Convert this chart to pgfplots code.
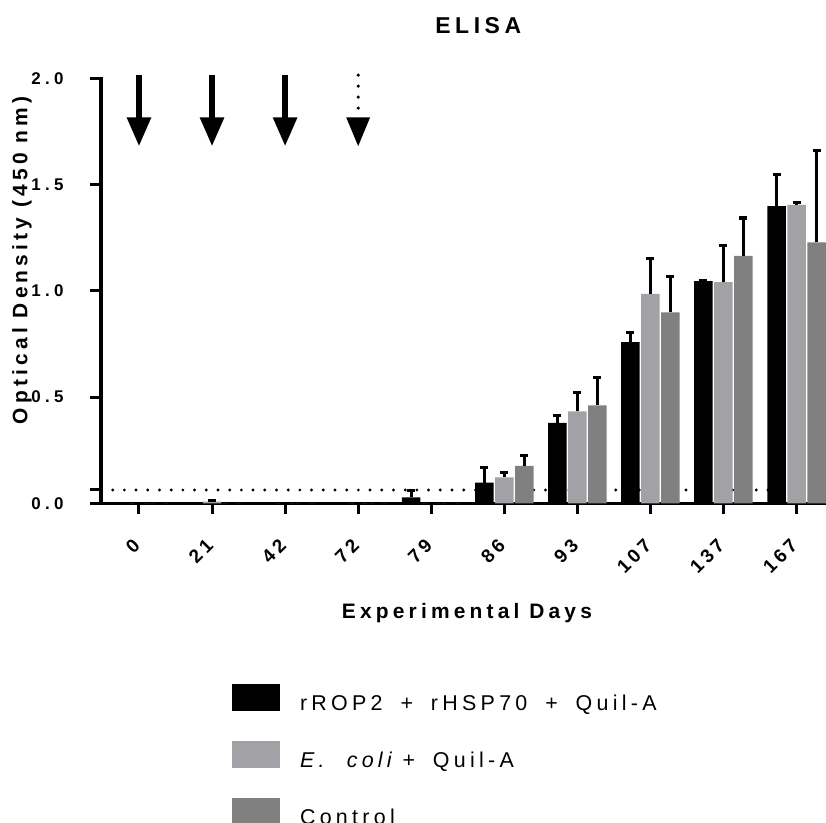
\documentclass[border=0pt]{standalone}
\usepackage{fontspec}
\setmainfont{Liberation Sans}[LetterSpace=20]
\newfontfamily\legfont{Liberation Sans}[LetterSpace=20, WordSpace=1.75]
\newfontfamily\yticfont{Liberation Sans}[LetterSpace=25]
\usepackage{pgfplots}
\pgfplotsset{compat=1.18}
\usepackage{pgfplotstable}
\usetikzlibrary{arrows.meta}

\definecolor{clight}{RGB}{162,162,166}
\definecolor{cdark}{RGB}{128,128,128}

\pgfplotstableread{
x b be l le d de
0 0 0 0 0 0 0
1 0 0 0.008 0.004 0 0
2 0 0 0 0 0 0
3 0 0 0 0 0 0
4 0.028 0.031 0 0 0 0
5 0.097 0.071 0.122 0.022 0.176 0.048
6 0.379 0.035 0.433 0.087 0.461 0.132
7 0.758 0.045 0.985 0.168 0.899 0.167
8 1.045 0.004 1.041 0.173 1.164 0.179
9 1.399 0.148 1.404 0.011 1.228 0.432
}\data

\newcommand{\xt}[1]{\mbox{\fontsize{19}{19}\selectfont\bfseries #1}}
\newcommand{\yt}[1]{\mbox{\yticfont\fontsize{17}{17}\selectfont\bfseries #1}}

\begin{document}
\begin{tikzpicture}
\begin{axis}[
  at={(101bp,319.7bp)}, anchor=south west,
  scale only axis, width=724bp, height=425bp,
  xmin=-0.52, xmax=9.39, ymin=0, ymax=2,
  clip=false,
  axis x line=bottom, axis y line=left,
  axis line style={-, line width=3bp, line cap=rect},
  tick align=outside, major tick length=11bp,
  every tick/.style={line width=3bp, black},
  xtick={0,1,2,3,4,5,6,7,8,9},
  xticklabels={\xt{0},\xt{21},\xt{42},\xt{72},\xt{79},\xt{86},\xt{93},\xt{107},\xt{137},\xt{167}},
  ytick={0,0.5,1,1.5,2},
  yticklabels={\yt{0.0},\yt{0.5},\yt{1.0},\yt{1.5},\yt{2.0}},
  extra y ticks={0.0626}, extra y tick labels={},
  xticklabel style={xshift=0bp, yshift=-25.5bp, rotate=45, anchor=east},
  yticklabel style={xshift=-23bp},
  title={ELISA},
  title style={at={(axis description cs:0.521,1.11)}, anchor=center, font=\bfseries\fontsize{23}{23}\selectfont},
  xlabel={Experimental Days},
  xlabel style={at={(axis description cs:0.5055,-0.259)}, anchor=center, font=\bfseries\fontsize{21}{21}\selectfont},
  ylabel={Optical Density (450 nm)},
  ylabel style={at={(axis description cs:-0.109,0.572)}, anchor=center, font=\bfseries\fontsize{21}{21}\selectfont},
  legend style={at={(axis description cs:0.181,-0.425)}, anchor=north west,
    draw=none, fill=none, inner sep=0pt, outer sep=0pt,
    row sep=29.25bp, font=\legfont\fontsize{21.5}{21.5}\selectfont,
    nodes={inner sep=0pt},
    /tikz/every odd column/.append style={column sep=20bp}},
  legend cell align=left,
  error bars/y dir=plus, error bars/y explicit,
  error bars/error bar style={line width=3bp, black},
  error bars/error mark options={line width=3.2bp, black, mark size=4bp, rotate=90},
]
% detection cut-off
\addplot[forget plot, line width=3.2bp, dash pattern=on 0bp off 11.7bp, line cap=round]
  coordinates {(-0.36,0.0626) (9.39,0.0626)};
% immunisation arrows
\addplot[forget plot, line width=6bp, -{Triangle[width=23bp,length=29bp]}]
  coordinates {(0,2.015) (0,1.68)};
\addplot[forget plot, line width=6bp, -{Triangle[width=23bp,length=29bp]}]
  coordinates {(1,2.015) (1,1.68)};
\addplot[forget plot, line width=6bp, -{Triangle[width=23bp,length=29bp]}]
  coordinates {(2,2.015) (2,1.68)};
\addplot[forget plot, line width=3.5bp, dash pattern=on 0bp off 11bp, line cap=round, -{Triangle[width=23bp,length=29bp]}]
  coordinates {(3,2.015) (3,1.68)};
% bars (offset of one bar step = 20bp = 0.2737 x units)
\addplot[ybar, bar width=18.5bp, bar shift=0bp, fill=black, draw=none,
  legend image code/.code={\fill[black] (0bp,-7.5bp) rectangle (48bp,19.5bp);}]
  table[x expr=\thisrow{x}-0.2737, y=b, y error=be] {\data};
\addlegendentry{rROP2 + rHSP70 + Quil-A}
\addplot[ybar, bar width=18.5bp, bar shift=0bp, fill=clight, draw=none,
  legend image code/.code={\fill[clight] (0bp,-7.5bp) rectangle (48bp,19.5bp);}]
  table[x=x, y=l, y error=le] {\data};
\addlegendentry{\textit{E.}\ \textit{coli}\hspace{6bp}+ Quil-A}
\addplot[ybar, bar width=18.5bp, bar shift=0bp, fill=cdark, draw=none,
  legend image code/.code={\fill[cdark] (0bp,-7.5bp) rectangle (48bp,19.5bp);}]
  table[x expr=\thisrow{x}+0.2737, y=d, y error=de] {\data};
\addlegendentry{Control}
\end{axis}
\pgfresetboundingbox
\useasboundingbox (0,0) rectangle (826bp,823bp);
\end{tikzpicture}
\end{document}
